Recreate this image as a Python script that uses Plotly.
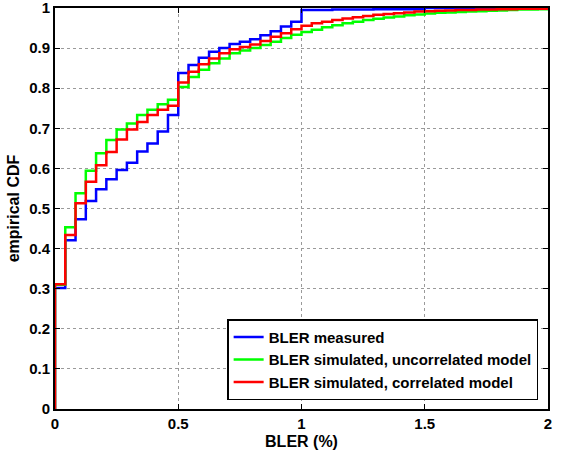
import plotly.graph_objects as go

step = 1 / 24  # BLER resolution (%)
n_steps = 49

measured = [0.302, 0.421, 0.473, 0.519, 0.548, 0.573, 0.596, 0.614, 0.642, 0.662,
            0.692, 0.733, 0.838, 0.858, 0.876, 0.891, 0.900, 0.910, 0.916, 0.922,
            0.932, 0.942, 0.954, 0.966, 0.995, 0.995, 0.995, 0.996, 0.996, 0.996,
            0.996, 0.997, 0.997, 0.997, 0.997, 0.997, 1.0, 1.0, 1.0, 1.0,
            1.0, 1.0, 1.0, 1.0, 1.0, 1.0, 1.0, 1.0, 1.0]

uncorrelated = [0.310, 0.453, 0.538, 0.594, 0.638, 0.671, 0.697, 0.712, 0.733, 0.746,
                0.760, 0.771, 0.803, 0.828, 0.846, 0.862, 0.874, 0.887, 0.894, 0.900,
                0.908, 0.916, 0.925, 0.933, 0.940, 0.946, 0.952, 0.957, 0.962, 0.966,
                0.970, 0.973, 0.976, 0.979, 0.982, 0.984, 0.986, 0.988, 0.989, 0.990,
                0.991, 0.992, 0.993, 0.994, 0.995, 0.996, 0.996, 0.997, 0.998]

correlated = [0.311, 0.434, 0.513, 0.567, 0.608, 0.641, 0.672, 0.697, 0.716, 0.733,
              0.746, 0.756, 0.814, 0.841, 0.860, 0.874, 0.887, 0.897, 0.903, 0.909,
              0.918, 0.928, 0.937, 0.947, 0.956, 0.962, 0.966, 0.970, 0.974, 0.977,
              0.980, 0.983, 0.985, 0.987, 0.989, 0.991, 0.992, 0.993, 0.994, 0.995,
              0.995, 0.996, 0.996, 0.997, 0.997, 0.998, 0.998, 0.998, 0.999]

names = ["BLER measured", "BLER simulated, uncorrelated model",
         "BLER simulated, correlated model"]
colors = ["#0000ff", "#00ff00", "#ff0000"]
series = [measured, uncorrelated, correlated]

x_vals = [0.0] + [k * step for k in range(n_steps)]

FONT = "Liberation Sans, Arial, Helvetica, sans-serif"

fig = go.Figure()
for name, col, ys in zip(names, colors, series):
    fig.add_trace(go.Scatter(
        x=x_vals, y=[0.0] + ys, mode="lines", name=name,
        line=dict(color=col, width=2.5, shape="hv"),
    ))

axis_common = dict(
    showline=True, linecolor="black", linewidth=2, mirror="ticks",
    ticks="inside", ticklen=5, tickcolor="black", tickwidth=1,
    showgrid=True, gridcolor="#9a9a9a", griddash="dot", gridwidth=1,
    zeroline=False, automargin=False, ticklabeloverflow="allow",
    tickfont=dict(family=FONT, size=15, color="black", weight="bold"),
)

fig.update_xaxes(range=[0, 2], dtick=0.5, tick0=0,
                 title=dict(text="BLER (%)", standoff=6,
                            font=dict(family=FONT, size=16, color="black", weight="bold")),
                 **axis_common)
fig.update_yaxes(range=[0, 1], dtick=0.1, tick0=0,
                 title=dict(text="empirical CDF", standoff=6,
                            font=dict(family=FONT, size=16, color="black", weight="bold")),
                 **axis_common)

fig.update_layout(
    width=562, height=450,
    margin=dict(l=55, r=14, t=8, b=41),
    plot_bgcolor="white", paper_bgcolor="white",
    showlegend=True,
    legend=dict(
        x=0.98, y=0.022, xanchor="right", yanchor="bottom",
        bgcolor="white", bordercolor="black", borderwidth=1.5,
        font=dict(family=FONT, size=15, color="black", weight="bold"),
        tracegroupgap=0,
    ),
)

fig.write_html("out.html")
